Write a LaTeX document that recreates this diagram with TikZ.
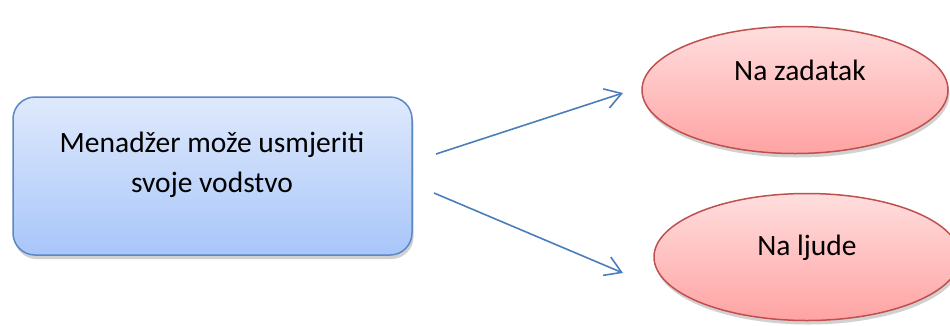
\documentclass[tikz,border=0pt]{standalone}
\usepackage{fontspec}
\setmainfont{Carlito}
\usetikzlibrary{shapes.geometric,shadows,arrows.meta}
\definecolor{boxtop}{HTML}{DFE9FC}
\definecolor{boxbot}{HTML}{A8C6FA}
\definecolor{boxline}{HTML}{5B88C4}
\definecolor{elltop}{HTML}{FFDEDE}
\definecolor{ellbot}{HTML}{FFA3A3}
\definecolor{ellline}{HTML}{C0504D}
\definecolor{arrowcol}{HTML}{4A7EBB}
\tikzset{
  mainbox/.style={draw=boxline, line width=1.5pt, rounded corners=22pt,
    top color=boxtop, bottom color=boxbot, minimum width=399pt, minimum height=158pt,
    inner sep=0pt,
    drop shadow={shadow xshift=1.5pt, shadow yshift=-4pt, opacity=0.3, fill=black!60}},
  oval/.style={ellipse, draw=ellline, line width=1.5pt, top color=elltop, bottom color=ellbot,
    minimum width=306pt, minimum height=127pt, inner sep=0pt,
    drop shadow={shadow xshift=1.5pt, shadow yshift=-4pt, opacity=0.3, fill=black!60}},
  lbl/.style={font=\fontsize{29.5}{40}\selectfont, align=center, text=black, inner sep=0pt},
  conn/.style={draw=arrowcol, line width=1.6pt, -{Straight Barb[length=16pt,width=20pt,line width=1.6pt]}}
}
\begin{document}
\begin{tikzpicture}[x=1pt,y=-1pt]
\useasboundingbox (0,0) rectangle (950,325);
\node[mainbox] (src) at (212.5,176) {};
\node[lbl] (srctxt) at (212,165) {Menadžer može usmjeriti\\svoje vodstvo};
\node[oval] (task) at (795,90) {};
\node[lbl] (tasktxt) at (800,70) {Na zadatak};
\node[oval] (people) at (807,257) {};
\node[lbl] (peopletxt) at (807,248) {Na ljude};
\coordinate (s1) at (436,154);
\coordinate (e1) at (623,93);
\coordinate (s2) at (434,193);
\coordinate (e2) at (623,273);
\draw[conn] (s1) -- (e1);
\draw[conn] (s2) -- (e2);
\end{tikzpicture}
\end{document}
